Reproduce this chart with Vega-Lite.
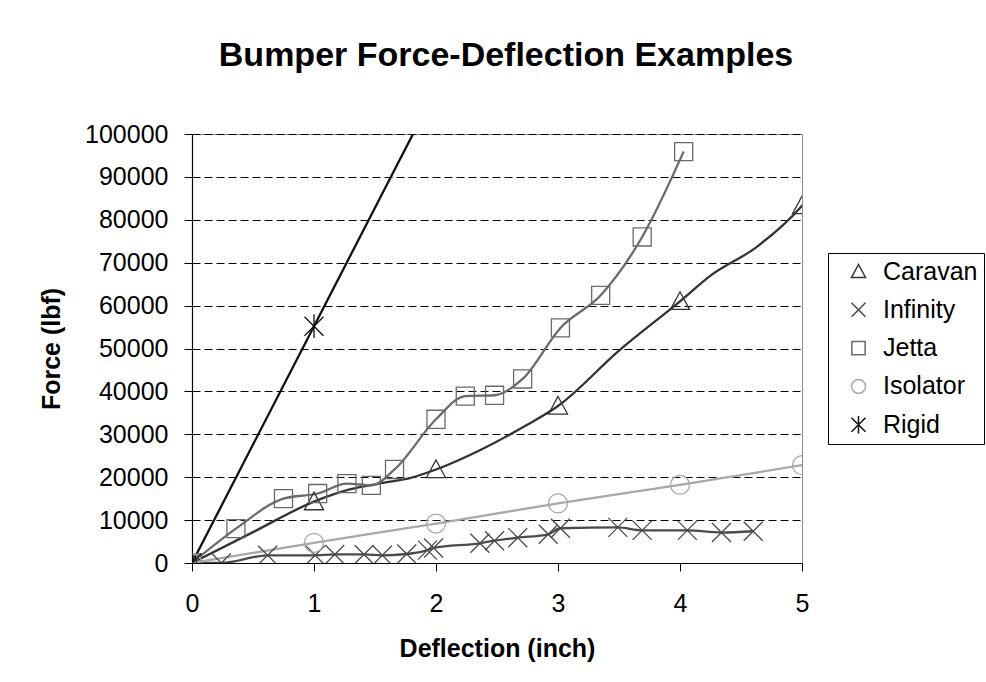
{
  "$schema": "https://vega.github.io/schema/vega-lite/v6.json",
  "width": 610,
  "height": 429,
  "autosize": {"type": "none"},
  "padding": {"left": 192, "top": 134, "right": 184, "bottom": 119},
  "background": "white",
  "title": {
    "text": "Bumper Force-Deflection Examples",
    "font": "Liberation Sans",
    "fontSize": 34,
    "fontWeight": "bold",
    "color": "#000000",
    "anchor": "middle",
    "dx": 9,
    "baseline": "alphabetic",
    "offset": 22
  },
  "config": {
    "view": {"stroke": "#8c8c8c", "strokeWidth": 1},
    "axis": {
      "labelFont": "Liberation Sans",
      "labelFontSize": 25,
      "labelColor": "#000000",
      "titleFont": "Liberation Sans",
      "titleFontSize": 25,
      "titleFontWeight": "bold",
      "titleColor": "#000000",
      "domainColor": "#000000",
      "domainWidth": 1.2,
      "tickColor": "#000000",
      "tickSize": 8,
      "tickWidth": 1
    }
  },
  "data": {
    "values": [
      {"series": "Caravan", "x": 0, "y": 0, "marker": true},
      {"series": "Caravan", "x": 0.5, "y": 7200, "marker": false},
      {"series": "Caravan", "x": 1, "y": 14300, "marker": true},
      {"series": "Caravan", "x": 1.3, "y": 17200, "marker": false},
      {"series": "Caravan", "x": 1.55, "y": 18600, "marker": false},
      {"series": "Caravan", "x": 1.8, "y": 19900, "marker": false},
      {"series": "Caravan", "x": 2, "y": 21800, "marker": true},
      {"series": "Caravan", "x": 2.36, "y": 26300, "marker": false},
      {"series": "Caravan", "x": 2.74, "y": 32100, "marker": false},
      {"series": "Caravan", "x": 3, "y": 36600, "marker": true},
      {"series": "Caravan", "x": 3.5, "y": 49500, "marker": false},
      {"series": "Caravan", "x": 4, "y": 61000, "marker": true},
      {"series": "Caravan", "x": 4.25, "y": 67000, "marker": false},
      {"series": "Caravan", "x": 4.63, "y": 73700, "marker": false},
      {"series": "Caravan", "x": 5, "y": 83300, "marker": true},
      {"series": "Caravan", "x": 5.2, "y": 90500, "marker": false},
      {"series": "Infinity", "x": 0, "y": 0, "marker": true},
      {"series": "Infinity", "x": 0.24, "y": 0, "marker": true},
      {"series": "Infinity", "x": 0.62, "y": 1800, "marker": true},
      {"series": "Infinity", "x": 1.01, "y": 1800, "marker": true},
      {"series": "Infinity", "x": 1.17, "y": 2000, "marker": true},
      {"series": "Infinity", "x": 1.41, "y": 2000, "marker": true},
      {"series": "Infinity", "x": 1.56, "y": 1800, "marker": true},
      {"series": "Infinity", "x": 1.76, "y": 2100, "marker": true},
      {"series": "Infinity", "x": 1.93, "y": 3000, "marker": true},
      {"series": "Infinity", "x": 1.98, "y": 3500, "marker": true},
      {"series": "Infinity", "x": 2.36, "y": 4600, "marker": true},
      {"series": "Infinity", "x": 2.48, "y": 5200, "marker": true},
      {"series": "Infinity", "x": 2.67, "y": 5900, "marker": true},
      {"series": "Infinity", "x": 2.92, "y": 6700, "marker": true},
      {"series": "Infinity", "x": 3.02, "y": 8100, "marker": true},
      {"series": "Infinity", "x": 3.49, "y": 8300, "marker": true},
      {"series": "Infinity", "x": 3.69, "y": 7600, "marker": true},
      {"series": "Infinity", "x": 4.06, "y": 7600, "marker": true},
      {"series": "Infinity", "x": 4.34, "y": 7100, "marker": true},
      {"series": "Infinity", "x": 4.6, "y": 7400, "marker": true},
      {"series": "Jetta", "x": 0, "y": 0, "marker": true},
      {"series": "Jetta", "x": 0.36, "y": 8000, "marker": true},
      {"series": "Jetta", "x": 0.75, "y": 15000, "marker": true},
      {"series": "Jetta", "x": 1.03, "y": 16200, "marker": true},
      {"series": "Jetta", "x": 1.27, "y": 18500, "marker": true},
      {"series": "Jetta", "x": 1.47, "y": 18100, "marker": true},
      {"series": "Jetta", "x": 1.66, "y": 21800, "marker": true},
      {"series": "Jetta", "x": 2.0, "y": 33500, "marker": true},
      {"series": "Jetta", "x": 2.24, "y": 38900, "marker": true},
      {"series": "Jetta", "x": 2.48, "y": 39100, "marker": true},
      {"series": "Jetta", "x": 2.71, "y": 42900, "marker": true},
      {"series": "Jetta", "x": 3.02, "y": 54800, "marker": true},
      {"series": "Jetta", "x": 3.35, "y": 62400, "marker": true},
      {"series": "Jetta", "x": 3.69, "y": 76000, "marker": true},
      {"series": "Jetta", "x": 4.03, "y": 95900, "marker": true},
      {"series": "Isolator", "x": 0, "y": 0, "marker": true},
      {"series": "Isolator", "x": 1, "y": 4700, "marker": true},
      {"series": "Isolator", "x": 2, "y": 9200, "marker": true},
      {"series": "Isolator", "x": 3, "y": 13900, "marker": true},
      {"series": "Isolator", "x": 4, "y": 18200, "marker": true},
      {"series": "Isolator", "x": 5, "y": 22800, "marker": true},
      {"series": "Rigid", "x": 0, "y": 0, "marker": true},
      {"series": "Rigid", "x": 1, "y": 55200, "marker": true},
      {"series": "Rigid", "x": 2, "y": 110400, "marker": false}
    ]
  },
  "encoding": {
    "x": {
      "field": "x",
      "type": "quantitative",
      "scale": {"domain": [0, 5], "nice": false, "zero": false},
      "axis": {
        "title": "Deflection (inch)",
        "values": [0, 1, 2, 3, 4, 5],
        "format": "d",
        "grid": false,
        "labelPadding": 20,
        "labelFlush": false,
        "titlePadding": 20
      }
    },
    "y": {
      "field": "y",
      "type": "quantitative",
      "scale": {"domain": [0, 100000], "nice": false},
      "axis": {
        "title": "Force (lbf)",
        "values": [0, 10000, 20000, 30000, 40000, 50000, 60000, 70000, 80000, 90000, 100000],
        "format": "d",
        "grid": true,
        "gridColor": "#000000",
        "gridDash": [8, 4],
        "gridWidth": 1,
        "labelPadding": 16,
        "labelFlush": false,
        "titlePadding": 20
      }
    }
  },
  "layer": [
    {
      "mark": {"type": "line", "interpolate": "monotone", "strokeWidth": 2.3, "clip": true},
      "encoding": {
        "stroke": {
          "field": "series",
          "type": "nominal",
          "scale": {
            "domain": ["Rigid", "Isolator", "Jetta", "Infinity", "Caravan"],
            "range": ["#111111", "#a8a8a8", "#6a6a6a", "#4a4a4a", "#333333"]
          },
          "legend": null
        },
        "order": {"field": "x", "type": "quantitative"}
      }
    },
    {
      "transform": [{"filter": "datum.marker"}],
      "mark": {"type": "point", "filled": false, "size": 361, "strokeWidth": 1.3, "opacity": 1, "clip": true},
      "encoding": {
        "color": {
          "field": "series",
          "type": "nominal",
          "scale": {
            "domain": ["Caravan", "Infinity", "Jetta", "Isolator", "Rigid"],
            "range": ["#333333", "#4a4a4a", "#6a6a6a", "#a8a8a8", "#111111"]
          },
          "legend": {
            "title": null,
            "orient": "none",
            "legendX": 636,
            "legendY": 119,
            "strokeColor": "#000000",
            "padding": 6,
            "rowPadding": 12.3,
            "symbolSize": 196,
            "symbolStrokeWidth": 1.5,
            "symbolOffset": 12,
            "labelOffset": 12,
            "labelFont": "Liberation Sans",
            "labelFontSize": 25,
            "labelColor": "#000000"
          }
        },
        "shape": {
          "field": "series",
          "type": "nominal",
          "scale": {
            "domain": ["Caravan", "Infinity", "Jetta", "Isolator", "Rigid"],
            "range": [
              "M0,-1L1,0.85L-1,0.85Z",
              "M-1,-1L1,1M-1,1L1,-1",
              "M-0.95,-0.95H0.95V0.95H-0.95Z",
              "M-1,0A1,1,0,1,0,1,0A1,1,0,1,0,-1,0Z",
              "M-1,-1L1,1M-1,1L1,-1M0,-1.25V1.25"
            ]
          }
        }
      }
    }
  ]
}
